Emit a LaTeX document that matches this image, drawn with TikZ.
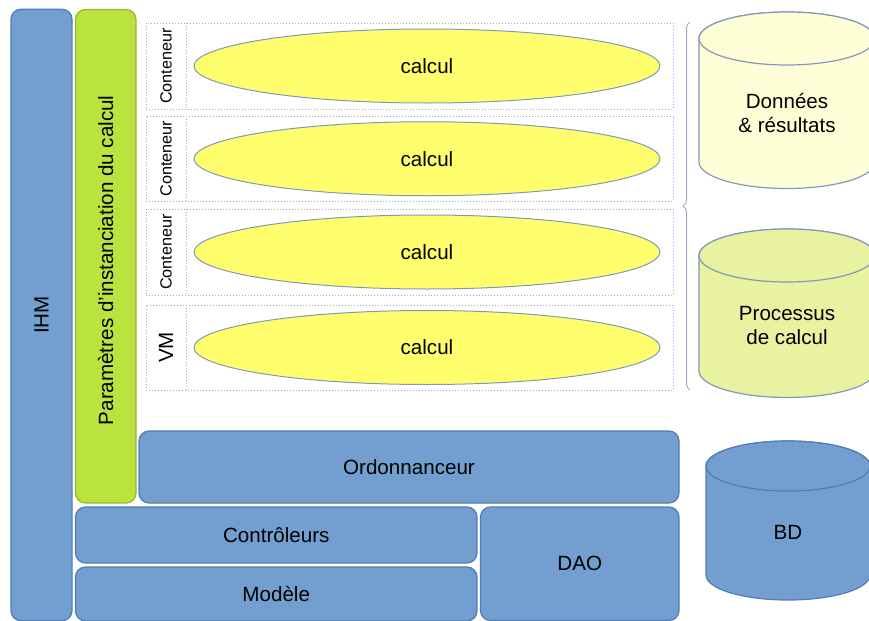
\documentclass[tikz,border=0pt]{standalone}
\usepackage{fontspec}
\setmainfont{Liberation Sans}
\usetikzlibrary{shapes.geometric,decorations.pathreplacing}

\definecolor{bleu}{HTML}{729FCF}
\definecolor{bleufonce}{HTML}{4F7DB6}
\definecolor{vert}{HTML}{BBE33D}
\definecolor{jaune}{HTML}{FFFF6D}
\definecolor{creme}{HTML}{FFFFD7}
\definecolor{anis}{HTML}{E8F2A1}
\definecolor{trait}{HTML}{8199B8}

% cylindre : style, centre x, haut y, bas y, rayon x, rayon y
\newcommand\cuve[6]{%
  \draw[#1] ({#2-#5},#3) -- ({#2-#5},#4)
    arc[start angle=180, end angle=0, x radius=#5, y radius=#6]
    -- ({#2+#5},#3)
    arc[start angle=0, end angle=-180, x radius=#5, y radius=#6] -- cycle;
  \draw[#1] (#2,#3) ellipse [x radius=#5, y radius=#6];}

\tikzset{
  bloc/.style={draw=bleufonce, fill=bleu, rounded corners=5pt, line width=0.6pt, inner sep=0pt},
  parametres/.style={bloc, draw=vert!80!black, fill=vert},
  conteneur/.style={draw=trait!80, densely dotted, line width=0.5pt, minimum width=263.5pt, inner sep=0pt},
  separation/.style={draw=trait!80, densely dotted, line width=0.5pt},
  etiquette/.style={rotate=90, inner sep=0pt},
  calcul/.style={ellipse, draw=trait, fill=jaune, line width=0.5pt, minimum width=233pt, minimum height=37pt, inner sep=0pt},
  accolade/.style={draw=trait!80, line width=0.5pt, decorate, decoration={brace, amplitude=3.5pt}},
  cuveclaire/.style={draw=trait, line width=0.6pt},
  cuvebleue/.style={draw=bleufonce, fill=bleu, line width=0.6pt}
}

\begin{document}
\begin{tikzpicture}[x=0.5pt, y=-0.5pt, font=\fontsize{10.3}{12}\selectfont]
		%%%%% START %%%%%
		\useasboundingbox (0,0) rectangle (869,621);
		\clip (0,0) rectangle (869,621);
		
		% colonnes de gauche
		\node[bloc, minimum width=30.5pt, minimum height=305.75pt] (ihm) at (41.5,315) {};
		\node[rotate=90] (ihm texte) at (ihm) {IHM};
		\node[parametres, minimum width=30.25pt, minimum height=246.75pt] (param) at (105.75,256.25) {};
		\node[rotate=90] (param texte) at ([yshift=-2pt]param) {Paramètres d'instanciation du calcul};
		
		% conteneurs et calculs
		\foreach \n/\cy/\h/\etiq/\taille in {1/66/43/Conteneur/8.1, 2/158.75/42.75/Conteneur/8.1, 3/252/43/Conteneur/8.1, 4/347.5/42.5/VM/10.3}{
			\node[conteneur, minimum height=\h pt] (cont\n) at (409.5,\cy) {};
			\draw[separation] ([xshift=20.5pt]cont\n.north west) -- ([xshift=20.5pt]cont\n.south west);
			\node[etiquette, font=\fontsize{\taille}{\taille}\selectfont] (etiq\n) at ([xshift=10.25pt]cont\n.west) {\etiq};
			\node[calcul] (calcul\n) at (427,\cy) {calcul};
		}
		
		\coordinate (accolade haut) at (690,22);
		\coordinate (accolade bas) at (690,390);
		\draw[accolade] (accolade bas) -- (accolade haut);
		
		% blocs du bas
		\node[bloc, minimum width=270pt, minimum height=36pt] (ordo) at (409,467) {Ordonnanceur};
		\node[bloc, minimum width=200.75pt, minimum height=28pt] (ctrl) at (276.25,535) {Contrôleurs};
		\node[bloc, minimum width=200.75pt, minimum height=27pt] (modele) at (276.25,594) {Modèle};
		\node[bloc, minimum width=99.25pt, minimum height=56.75pt] (dao) at (579.75,563.75) {DAO};
		
		% bases
		\cuve{cuveclaire, fill=creme}{787}{38.5}{162}{88}{26.5}
		\node[align=center] (donnees) at (787,113) {Données\\\& résultats};
		\cuve{cuveclaire, fill=anis}{787}{255.5}{371}{88}{26.5}
		\node[align=center] (processus) at (787,326) {Processus\\de calcul};
		\cuve{cuvebleue}{788}{466}{575}{82}{25}
		\node (bd) at (788,532) {BD};
		
		%%%%% END %%%%%
	\end{tikzpicture}
\end{document}
